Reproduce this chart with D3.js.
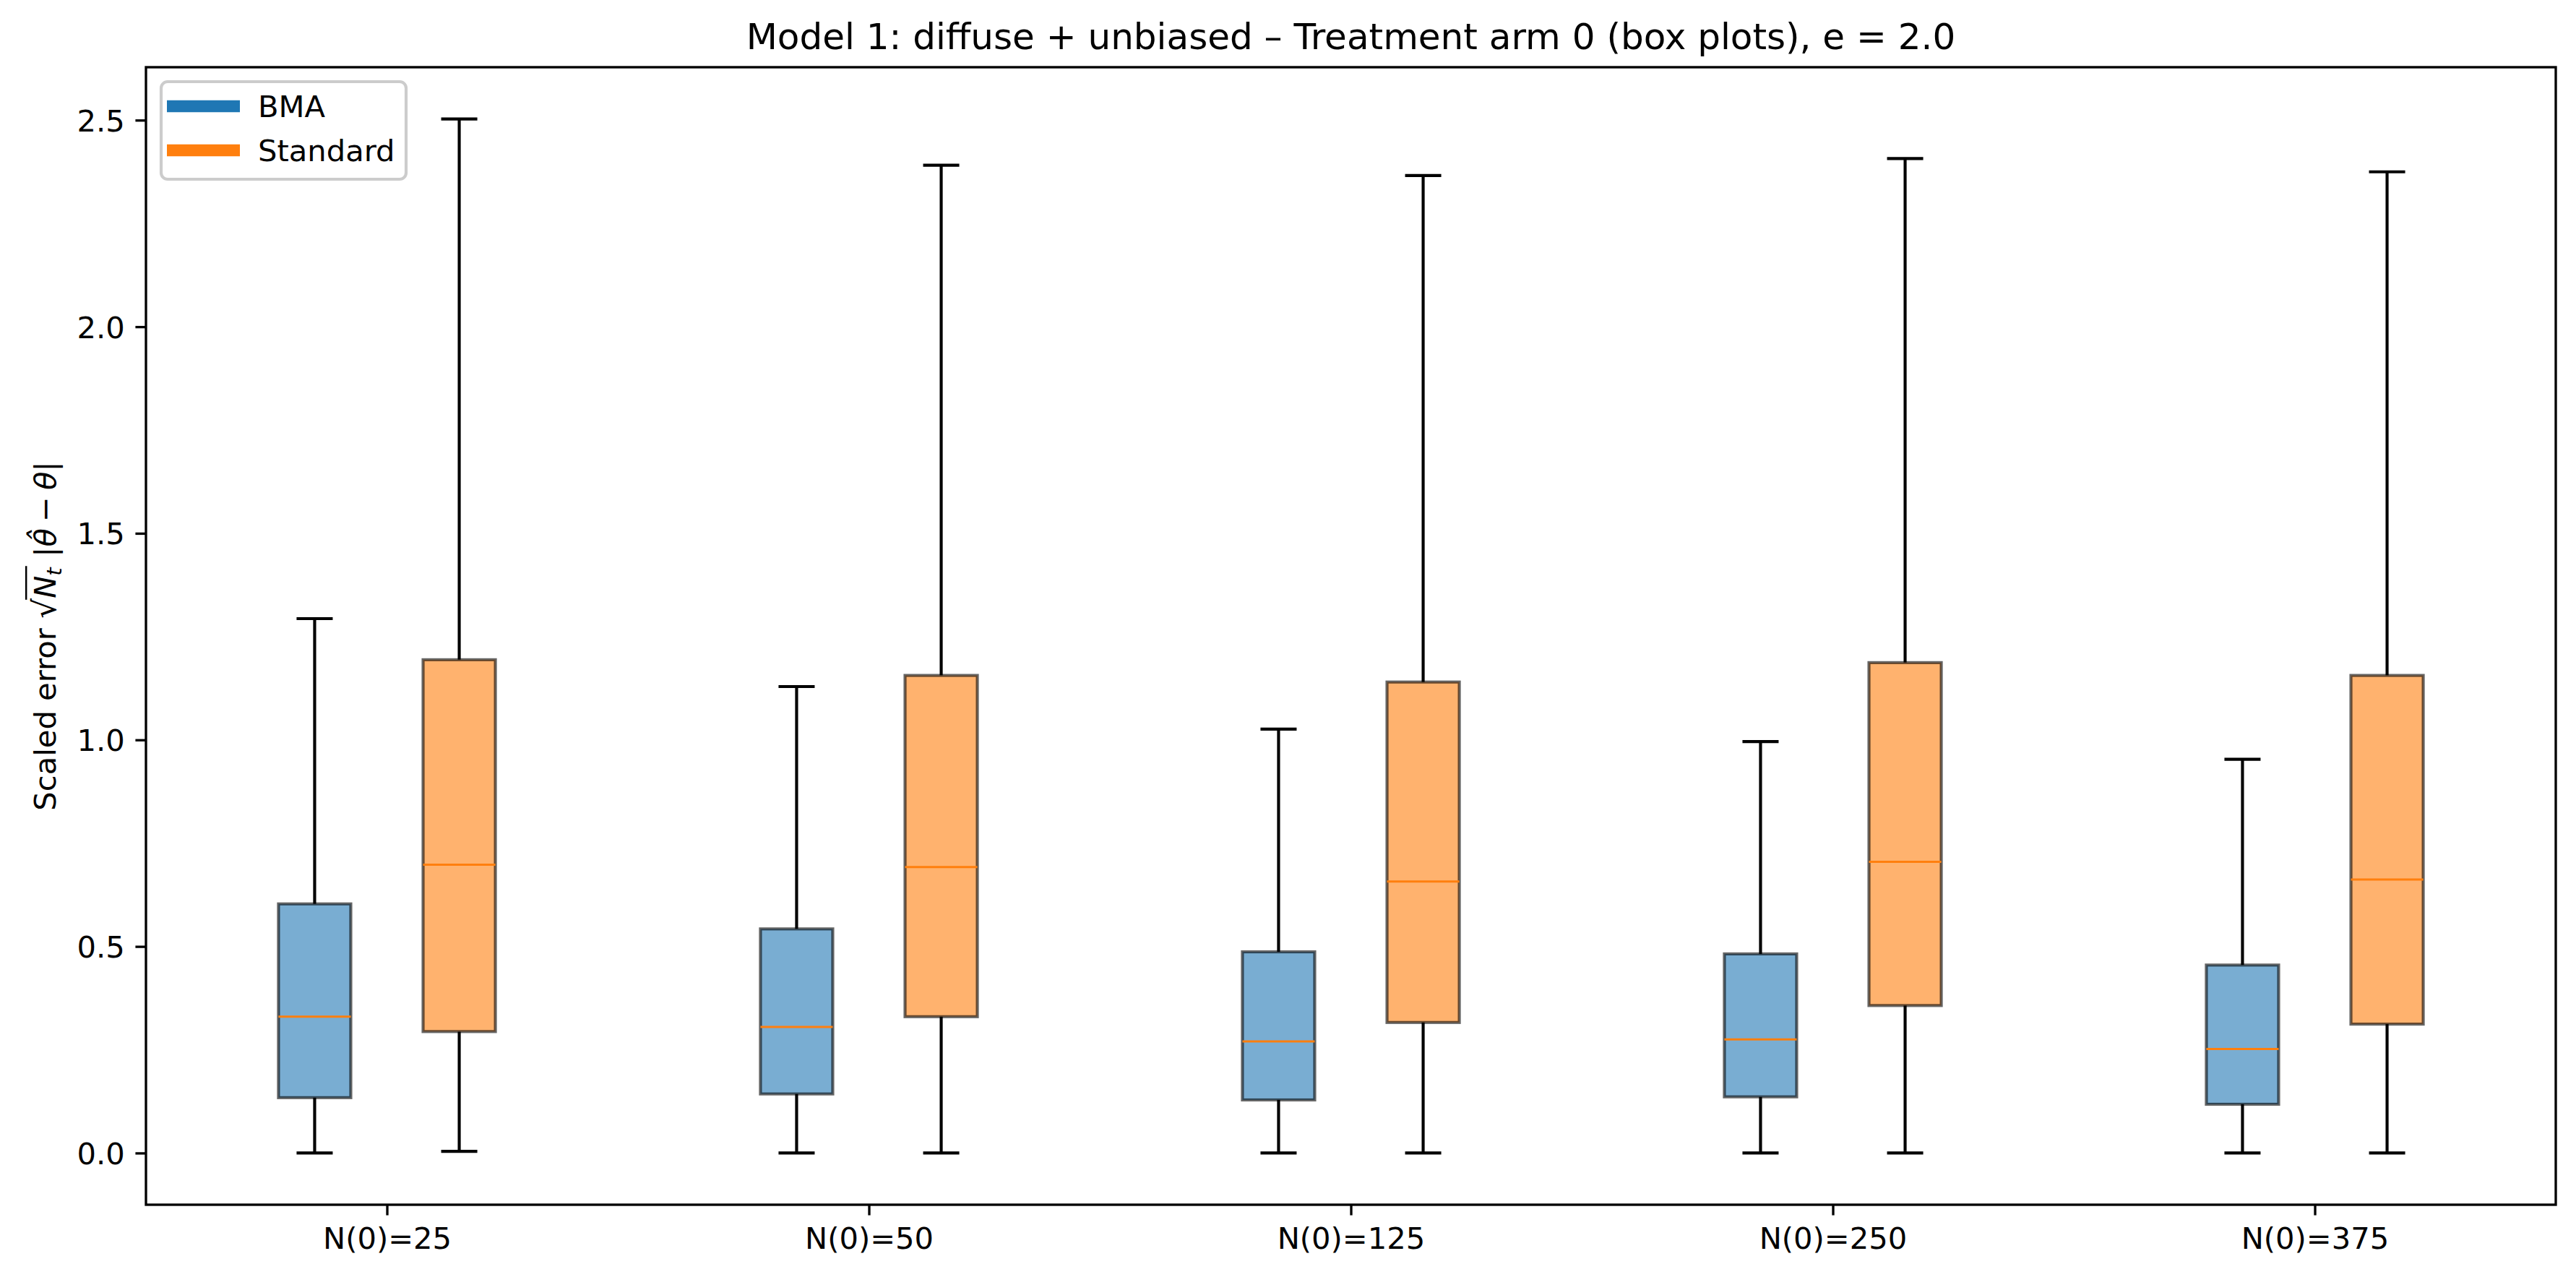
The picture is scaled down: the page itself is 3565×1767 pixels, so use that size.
<!DOCTYPE html>
<html>
<head>
<meta charset="utf-8">
<script src="https://cdn.jsdelivr.net/npm/d3@7"></script>
<style>
  html, body { margin: 0; padding: 0; background: #fff; }
  svg { display: block; }
  text { font-family: "DejaVu Sans", sans-serif; white-space: pre; }
</style>
</head>
<body>
<svg id="chart" width="3565" height="1767"></svg>
<script>
// ---- data ----
const categories = ["N(0)=25", "N(0)=50", "N(0)=125", "N(0)=250", "N(0)=375"];
const positions = [1, 2, 3, 4, 5];
const seriesNames = ["BMA", "Standard"];

const bmaLow  = [0.000, 0.000, 0.000, 0.000, 0.000];
const bmaQ1   = [0.134, 0.143, 0.1285, 0.136, 0.118];
const bmaMed  = [0.330, 0.305, 0.270, 0.275, 0.252];
const bmaQ3   = [0.603, 0.5425, 0.487, 0.482, 0.455];
const bmaHigh = [1.2935, 1.129, 1.026, 0.996, 0.953];

const stdLow  = [0.004, 0.000, 0.000, 0.000, 0.000];
const stdQ1   = [0.294, 0.330, 0.316, 0.357, 0.312];
const stdMed  = [0.698, 0.692, 0.657, 0.705, 0.662];
const stdQ3   = [1.194, 1.156, 1.140, 1.187, 1.156];
const stdHigh = [2.503, 2.391, 2.366, 2.407, 2.375];

const yTicks = [0.0, 0.5, 1.0, 1.5, 2.0, 2.5];

const titleText = "Model 1: diffuse + unbiased \u2013 Treatment arm 0 (box plots), e = 2.0";

// ---- layout ----
const S = 300 / 72; // px per pt
const L = 202, R = 3537, T = 93, B = 1667;
const fontPx = 10 * S;

const svg = d3.select("#chart");

const dataMin = d3.min([...bmaLow, ...stdLow]);
const dataMax = d3.max([...bmaHigh, ...stdHigh]);
const pad = (dataMax - dataMin) * 0.05;

const x = d3.scaleLinear().domain([0.5, 5.5]).range([L, R]);
const y = d3.scaleLinear().domain([dataMin - pad, dataMax + pad]).range([B, T]);

const offset = 0.15, boxW = 0.15, capW = boxW / 2;

const series = [
  { name: "BMA", color: "#1f77b4", dx: -offset, low: bmaLow, q1: bmaQ1, med: bmaMed, q3: bmaQ3, high: bmaHigh },
  { name: "Standard", color: "#ff7f0e", dx: offset, low: stdLow, q1: stdQ1, med: stdMed, q3: stdQ3, high: stdHigh }
];

const plot = svg.append("g");

series.forEach(s => {
  const rows = positions.map((p, i) => ({
    p: p + s.dx, low: s.low[i], q1: s.q1[i], med: s.med[i], q3: s.q3[i], high: s.high[i]
  }));
  const g = plot.append("g");
  // whiskers
  g.selectAll(".wlo").data(rows).join("line")
    .attr("x1", d => x(d.p)).attr("x2", d => x(d.p))
    .attr("y1", d => y(d.q1)).attr("y2", d => y(d.low))
    .attr("stroke", "#000").attr("stroke-width", 1 * S);
  g.selectAll(".whi").data(rows).join("line")
    .attr("x1", d => x(d.p)).attr("x2", d => x(d.p))
    .attr("y1", d => y(d.q3)).attr("y2", d => y(d.high))
    .attr("stroke", "#000").attr("stroke-width", 1 * S);
  // caps
  ["low", "high"].forEach(k => {
    g.selectAll(".cap" + k).data(rows).join("line")
      .attr("x1", d => x(d.p - capW / 2)).attr("x2", d => x(d.p + capW / 2))
      .attr("y1", d => y(d[k])).attr("y2", d => y(d[k]))
      .attr("stroke", "#000").attr("stroke-width", 1 * S);
  });
  // boxes
  g.selectAll(".box").data(rows).join("rect")
    .attr("x", d => x(d.p - boxW / 2))
    .attr("width", d => x(d.p + boxW / 2) - x(d.p - boxW / 2))
    .attr("y", d => y(d.q3))
    .attr("height", d => y(d.q1) - y(d.q3))
    .attr("fill", s.color).attr("fill-opacity", 0.6)
    .attr("stroke", "#000").attr("stroke-opacity", 0.6).attr("stroke-width", 1 * S);
  // medians
  g.selectAll(".med").data(rows).join("line")
    .attr("x1", d => x(d.p - boxW / 2)).attr("x2", d => x(d.p + boxW / 2))
    .attr("y1", d => y(d.med)).attr("y2", d => y(d.med))
    .attr("stroke", "#ff7f0e").attr("stroke-width", 3);
});

// ---- axes ----
const yAxis = svg.append("g").attr("transform", `translate(${L},0)`)
  .call(d3.axisLeft(y).tickValues(yTicks).tickFormat(d3.format(".1f"))
    .tickSize(3.5 * S).tickPadding(3.5 * S));
const xAxis = svg.append("g").attr("transform", `translate(0,${B})`)
  .call(d3.axisBottom(x).tickValues(positions).tickFormat((d, i) => categories[i])
    .tickSize(3.5 * S).tickPadding(3.5 * S));
[yAxis, xAxis].forEach(a => {
  a.select(".domain").remove();
  a.selectAll(".tick line").attr("stroke", "#000").attr("stroke-width", 0.8 * S);
  a.selectAll(".tick text").attr("fill", "#000")
    .style("font-family", "DejaVu Sans").style("font-size", fontPx + "px");
});
yAxis.selectAll(".tick text").attr("dy", "0.36em");
xAxis.selectAll(".tick text").attr("dy", "0.76em");

// frame
svg.append("rect").attr("x", L).attr("y", T).attr("width", R - L).attr("height", B - T)
  .attr("fill", "none").attr("stroke", "#000").attr("stroke-width", 0.8 * S);

// ---- title ----
svg.append("text").attr("x", (L + R) / 2).attr("y", 68)
  .attr("text-anchor", "middle").style("font-size", (12 * S) + "px").attr("fill", "#000")
  .text(titleText);

// ---- y label (math) ----
const yl = svg.append("g").attr("transform", `translate(77,${(T + B) / 2}) rotate(-90)`);
let cx = 0;
function piece(str, opts = {}) {
  const t = yl.append("text").attr("x", cx).attr("y", opts.dy || 0)
    .attr("xml:space", "preserve")
    .style("font-size", (opts.size || fontPx) + "px")
    .style("font-style", opts.italic ? "italic" : "normal")
    .attr("fill", "#000").text(str);
  const w = t.node().getComputedTextLength();
  cx += w + (opts.after || 0);
  return w;
}
piece("Scaled error");
cx += fontPx * 0.32;
piece("\u221A", { size: fontPx * 1.05 });
const nStart = cx;
piece("N", { italic: true });
piece("t", { italic: true, size: fontPx * 0.7, dy: fontPx * 0.2 });
const nEnd = cx + 2;
cx += fontPx * 0.35;
piece("|");
piece("\u03B8\u0302", { italic: true });
cx += fontPx * 0.22;
piece("\u2212");
cx += fontPx * 0.22;
piece("\u03B8", { italic: true });
piece("|");
const total = cx;
// overline of radical
yl.append("line").attr("x1", nStart - 2).attr("x2", nEnd)
  .attr("y1", -fontPx * 0.98).attr("y2", -fontPx * 0.98)
  .attr("stroke", "#000").attr("stroke-width", 2.5);
// center the label
yl.selectAll("text").each(function () {
  const s = d3.select(this);
  s.attr("x", +s.attr("x") - total / 2);
});
yl.selectAll("line").each(function () {
  const s = d3.select(this);
  s.attr("x1", +s.attr("x1") - total / 2).attr("x2", +s.attr("x2") - total / 2);
});

// ---- legend ----
const lg = svg.append("g");
lg.append("rect").attr("x", 223).attr("y", 113).attr("width", 339).attr("height", 135)
  .attr("rx", 9).attr("fill", "#fff").attr("fill-opacity", 0.8)
  .attr("stroke", "#cccccc").attr("stroke-width", 1 * S);
const legY = d3.scalePoint().domain(seriesNames).range([147, 208]);
series.forEach(s => {
  lg.append("line").attr("x1", 231).attr("x2", 332)
    .attr("y1", legY(s.name)).attr("y2", legY(s.name))
    .attr("stroke", s.color).attr("stroke-width", 16.7);
  lg.append("text").attr("x", 357).attr("y", legY(s.name)).attr("dy", "0.36em")
    .style("font-size", fontPx + "px").attr("fill", "#000").text(s.name);
});
</script>
</body>
</html>
